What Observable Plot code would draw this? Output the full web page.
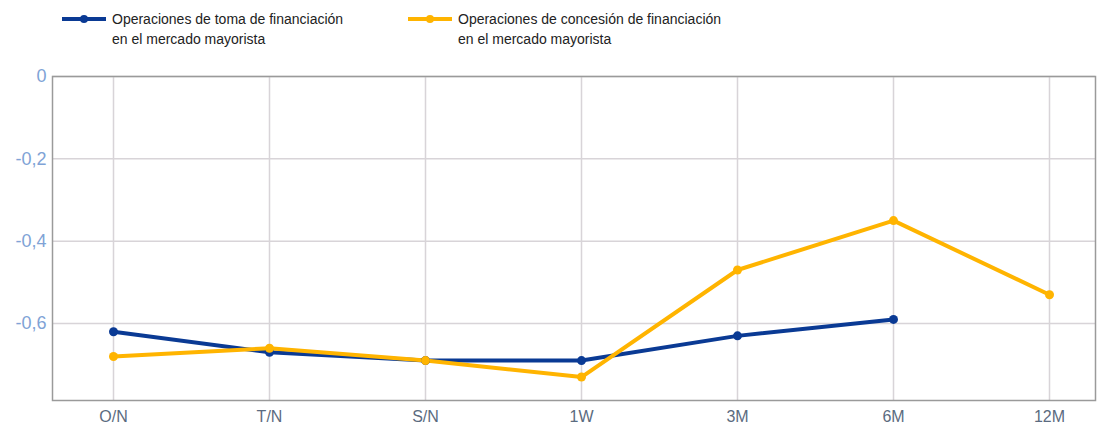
<!DOCTYPE html>
<html><head><meta charset="utf-8">
<script src="https://cdn.jsdelivr.net/npm/d3@7"></script>
<script src="https://cdn.jsdelivr.net/npm/@observablehq/plot@0.6"></script>
<style>
body{margin:0;background:#fff;font-family:"Liberation Sans",Arial,sans-serif;}
#legend{position:relative;height:56px;}
.item{position:absolute;top:9px;display:flex;align-items:flex-start;font-size:14px;line-height:20px;color:#222;}
.sw{position:relative;width:44px;height:20px;margin-right:6px;}
.sw .l{position:absolute;left:0;right:0;top:8px;height:4px;}
.sw .d{position:absolute;left:18px;top:6px;width:8px;height:8px;border-radius:50%;}
</style></head><body>
<div id="legend"></div>
<div id="chart"></div>
<script>
const categories = ["O/N","T/N","S/N","1W","3M","6M","12M"];
const toma = [-0.62,-0.67,-0.69,-0.69,-0.63,-0.59,null];
const concesion = [-0.68,-0.66,-0.69,-0.73,-0.47,-0.35,-0.53];
const seriesNames = ["Operaciones de toma de financiación<br>en el mercado mayorista","Operaciones de concesión de financiación<br>en el mercado mayorista"];
const colors = ["#0a3a94","#ffb400"];
const yTicks = [0,-0.2,-0.4,-0.6];

const lg = document.getElementById("legend");
[62,408].forEach((x,i)=>{
  const d=document.createElement("div");d.className="item";d.style.left=x+"px";
  d.innerHTML=`<div class="sw"><div class="l" style="background:${colors[i]}"></div><div class="d" style="background:${colors[i]}"></div></div><div>${seriesNames[i]}</div>`;
  lg.appendChild(d);
});

const data = [];
categories.forEach((c,i)=>{
  if(toma[i]!=null) data.push({cat:c,v:toma[i],s:0});
  if(concesion[i]!=null) data.push({cat:c,v:concesion[i],s:1});
});
const fmt = d => d===0 ? "0" : d.toFixed(1).replace(".",",");
const W=1097;
const plot = Plot.plot({
  width:W, height:371,
  marginLeft:52, marginRight:2, marginTop:20, marginBottom:27,
  style:{fontFamily:"Liberation Sans, Arial, sans-serif"},
  x:{type:"point",domain:categories,range:[110,1051],padding:0,label:null},
  y:{domain:[-0.787,0],ticks:yTicks,label:null},
  marks:[
    Plot.gridX(categories,{x:d=>d,stroke:"#d8d4d8",strokeOpacity:1,strokeWidth:1.5}),
    Plot.gridY(yTicks,{y:d=>d,stroke:"#d8d4d8",strokeOpacity:1,strokeWidth:1.5}),
    Plot.frame({stroke:"#9a9a9a",strokeWidth:1.5}),
    Plot.axisY(yTicks,{tickSize:0,tickPadding:6,tickFormat:fmt,fontSize:18,fill:"#7fa3d6",textAnchor:"end",label:null}),
    Plot.axisX(categories,{tickSize:0,tickPadding:10,fontSize:16,fill:"#5b6b80",label:null}),
    Plot.line(data.filter(d=>d.s===0),{x:"cat",y:"v",stroke:colors[0],strokeWidth:4}),
    Plot.line(data.filter(d=>d.s===1),{x:"cat",y:"v",stroke:colors[1],strokeWidth:4}),
    Plot.dot(data,{x:"cat",y:"v",r:4.5,fill:d=>colors[d.s],stroke:"none"})
  ]
});
document.getElementById("chart").appendChild(plot);
</script></body></html>
